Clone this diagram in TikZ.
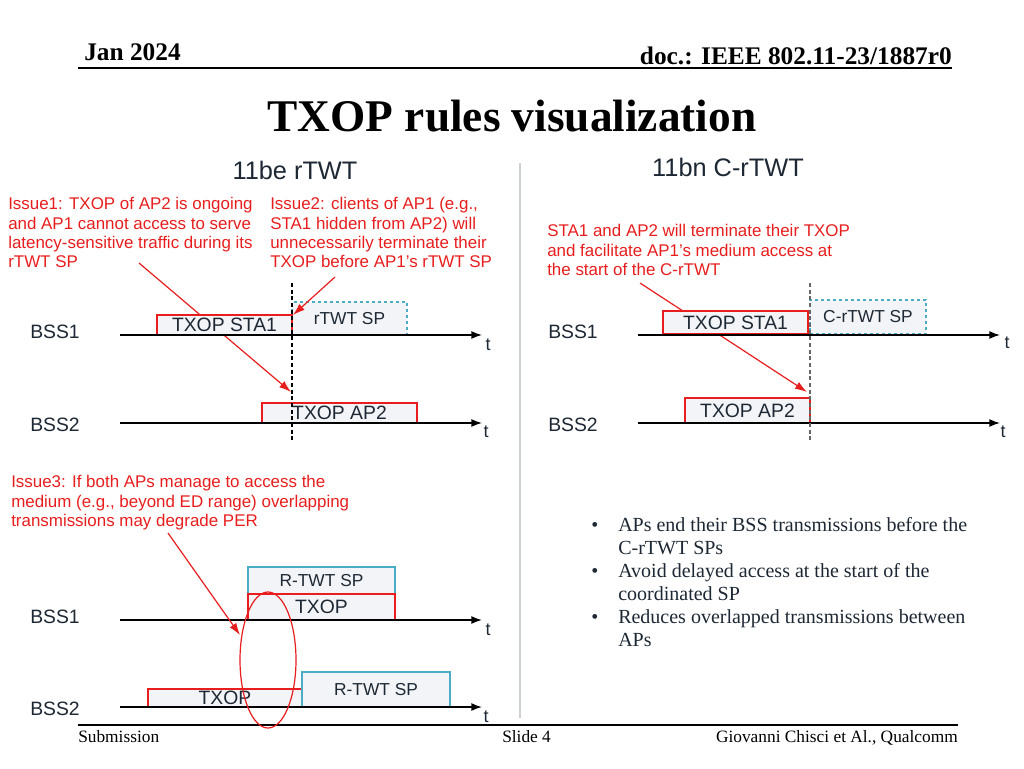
\documentclass[tikz,border=0pt]{standalone}
\usepackage{fontspec}
\setmainfont{Liberation Serif}
\setsansfont{Liberation Sans}
\usepackage{xcolor}
\usetikzlibrary{shapes.geometric}
\usetikzlibrary{arrows.meta, calc, positioning}

\definecolor{issuered}{RGB}{232,30,30}
\definecolor{slidetext}{RGB}{30,40,52}
\definecolor{boxfill}{RGB}{242,244,247}
\definecolor{spteal}{RGB}{75,172,198}
\definecolor{sepgray}{RGB}{205,208,212}

\newcommand{\sumitem}[1]{\makebox[20.25pt][l]{\textbullet}#1}
\newcommand{\sumcont}[1]{\hspace*{20.25pt}#1}

\begin{document}
\begin{tikzpicture}[x=0.75pt, y=-0.75pt,
  issue/.style={text=issuered, font=\sffamily\fontsize{12.7}{14.6}\selectfont, align=left, anchor=north west, inner sep=0pt},
  bss/.style={text=slidetext, font=\sffamily\fontsize{14.5}{16}\selectfont, anchor=west, inner sep=0pt},
  tlabel/.style={text=slidetext, font=\sffamily\fontsize{13.5}{15}\selectfont, inner sep=0pt},
  panel/.style={text=slidetext, font=\sffamily\fontsize{19}{22}\selectfont, anchor=base, inner sep=0pt},
  timeline/.style={draw=black, line width=1.1pt, -{Latex[length=8pt,width=6pt]}},
  txopbox/.style={draw=issuered, fill=boxfill, line width=1.1pt, inner sep=0pt, text=slidetext, font=\sffamily\fontsize{14.5}{16}\selectfont},
  spbox/.style={draw=spteal, fill=boxfill, line width=1pt, inner sep=0pt, text=slidetext, font=\sffamily\fontsize{13}{14}\selectfont},
  pointer/.style={draw=issuered, line width=0.9pt, -{Latex[length=9pt,width=6pt]}},
  spline/.style={dash pattern=on 2.5pt off 2pt, line width=0.8pt}]
\def\px{0.75pt}

\fill[white] (0,0) rectangle (1024,768);
\useasboundingbox (0,0) rectangle (1024,768);

% header and footer
\node[anchor=base west, inner sep=0pt, font=\bfseries\fontsize{19}{22}\selectfont] (date) at (84,60) {Jan 2024};
\node[anchor=base east, inner sep=0pt, font=\bfseries\fontsize{19}{22}\selectfont] (docid) at (952,64) {doc.: IEEE 802.11-23/1887r0};
\draw[line width=1.2pt] (78,68) -- (952,68);
\node[anchor=base, inner sep=0pt, font=\bfseries\fontsize{34}{40}\selectfont] (title) at (512,131) {TXOP rules visualization};

\draw[line width=1.2pt] (78,725) -- (958,725);
\node[anchor=base west, inner sep=0pt, font=\fontsize{13}{15}\selectfont] (subm) at (78,742) {Submission};
\node[anchor=base west, inner sep=0pt, font=\fontsize{13}{15}\selectfont] (slide) at (502,742) {Slide 4};
\node[anchor=base east, inner sep=0pt, font=\fontsize{13}{15}\selectfont] (auth) at (958,742) {Giovanni Chisci et Al., Qualcomm};

% panel split
\draw[sepgray, line width=1.1pt] (520,163) -- (520,718);
\node[panel] (beTitle) at (295,179) {11be rTWT};
\node[panel] (bnTitle) at (728,176) {11bn C-rTWT};

% ---- 11be rTWT, issues 1 and 2
\node[issue] (issue1) at (8,197) {Issue1: TXOP of AP2 is ongoing\\and AP1 cannot access to serve\\latency-sensitive traffic during its\\rTWT SP};
\node[issue] (issue2) at (270,197) {Issue2: clients of AP1 (e.g.,\\STA1 hidden from AP2) will\\unnecessarily terminate their\\TXOP before AP1’s rTWT SP};

\node[bss] (bss1L) at (30,332) {BSS1};
\node[bss] (bss2L) at (30,425) {BSS2};
\coordinate (t1Ls) at (120,335);
\coordinate (t1Le) at (482,335);
\coordinate (t2Ls) at (120,423);
\coordinate (t2Le) at (482,423);

\coordinate (tail1) at (139,263);
\coordinate (hit1) at (291,392);
\coordinate (tail2) at (335,277);
\coordinate (hit2) at (293,315);
\draw[pointer] (tail1) -- (hit1);

\node[spbox, spline, minimum width=115*\px, minimum height=33*\px] (spL) at (349.5,318.5) {rTWT SP};
\node[txopbox, minimum width=135*\px, minimum height=20*\px] (sta1L) at (224.5,325) {TXOP STA1};
\node[txopbox, minimum width=155*\px, minimum height=20*\px] (ap2L) at (339.5,413) {TXOP AP2};
\draw[pointer] (tail2) -- (hit2);

\draw[timeline] (t1Ls) -- (t1Le);
\draw[timeline] (t2Ls) -- (t2Le);
\node[tlabel] (tt1L) at (488,345) {t};
\node[tlabel] (tt2L) at (486,432) {t};

\coordinate (cutTopL) at (292,283);
\coordinate (cutBotL) at (292,442);
\draw[black, dash pattern=on 3pt off 2pt, line width=0.8pt] (cutTopL) -- (cutBotL);

% ---- 11bn C-rTWT
\node[issue] (termnote) at (547,224) {STA1 and AP2 will terminate their TXOP\\and facilitate AP1’s medium access at\\the start of the C-rTWT};

\node[bss] (bss1R) at (548,332) {BSS1};
\node[bss] (bss2R) at (548,425) {BSS2};
\coordinate (t1Rs) at (638,335);
\coordinate (t1Re) at (1000,335);
\coordinate (t2Rs) at (638,423);
\coordinate (t2Re) at (1000,423);

\coordinate (tail3) at (640,283);
\coordinate (hit3) at (807,392);
\draw[pointer] (tail3) -- (hit3);

\node[spbox, spline, minimum width=116*\px, minimum height=34*\px] (spR) at (868,317) {C-rTWT SP};
\node[txopbox, minimum width=145*\px, minimum height=23*\px] (sta1R) at (735.5,322.5) {TXOP STA1};
\node[txopbox, minimum width=125*\px, minimum height=25*\px] (ap2R) at (747.5,410.5) {TXOP AP2};

\draw[timeline] (t1Rs) -- (t1Re);
\draw[timeline] (t2Rs) -- (t2Re);
\node[tlabel] (tt1R) at (1007,343) {t};
\node[tlabel] (tt2R) at (1003,432) {t};

\coordinate (cutTopR) at (810,283);
\coordinate (cutBotR) at (810,441);
\draw[black!60, dash pattern=on 3pt off 2pt, line width=0.8pt] (cutTopR) -- (cutBotR);

% ---- 11be rTWT, issue 3
\node[issue] (issue3) at (11,475) {Issue3: If both APs manage to access the\\medium (e.g., beyond ED range) overlapping\\transmissions may degrade PER};

\node[bss] (bss1D) at (30,617) {BSS1};
\node[bss] (bss2D) at (30,709) {BSS2};
\coordinate (t1Ds) at (120,620);
\coordinate (t1De) at (482,620);
\coordinate (t2Ds) at (120,707);
\coordinate (t2De) at (482,707);

\node[spbox, minimum width=147*\px, minimum height=27*\px] (spU) at (321.5,580.5) {R-TWT SP};
\node[txopbox, minimum width=147*\px, minimum height=26*\px] (txopU) at (321.5,607) {TXOP};
\node[txopbox, minimum width=154*\px, minimum height=18*\px] (txopD) at (225,698) {TXOP};
\node[spbox, minimum width=148*\px, minimum height=35*\px] (spD) at (376,689.5) {R-TWT SP};

\draw[timeline] (t1Ds) -- (t1De);
\draw[timeline] (t2Ds) -- (t2De);
\node[tlabel] (tt1D) at (488,630) {t};
\node[tlabel] (tt2D) at (486,717) {t};

\node[draw=issuered, line width=0.9pt, ellipse, minimum width=56*\px, minimum height=136*\px, inner sep=0pt] (overlap) at (268,660) {};

\coordinate (tail4) at (168,533);
\coordinate (hit4) at (240,635);
\draw[pointer] (tail4) -- (hit4);

% ---- summary
\node[anchor=north west, align=left, inner sep=0pt, text=slidetext, font=\fontsize{15}{17.25}\selectfont] (summary) at (591,517) {\sumitem{APs end their BSS transmissions before the}\\\sumcont{C-rTWT SPs}\\\sumitem{Avoid delayed access at the start of the}\\\sumcont{coordinated SP}\\\sumitem{Reduces overlapped transmissions between}\\\sumcont{APs}};
\end{tikzpicture}
\end{document}
